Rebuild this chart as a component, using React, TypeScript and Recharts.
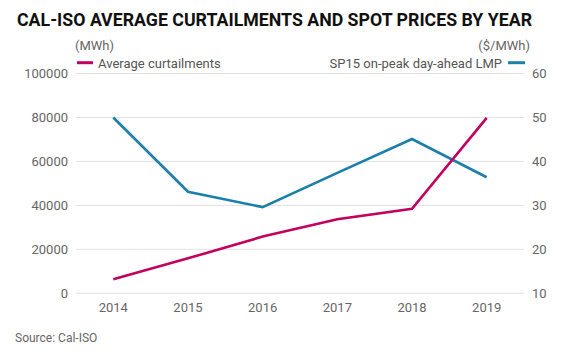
import React from "react";
import { ComposedChart, Line, XAxis, YAxis, CartesianGrid } from "recharts";

const years = ["2014", "2015", "2016", "2017", "2018", "2019"];
const curtailments = [6400, 15900, 25800, 33700, 38400, 79800];
const lmp = [50.0, 33.1, 29.6, 37.4, 45.1, 36.4];
const leftTicks = [0, 20000, 40000, 60000, 80000, 100000];
const rightTicks = [10, 20, 30, 40, 50, 60];

const PINK = "#c3005f";
const BLUE = "#1a80a9";
const FONT = "Roboto, 'Noto Sans', sans-serif";

const data = years.map((y, i) => ({ year: y, curt: curtailments[i], lmp: lmp[i] }));

export default function App() {
  const tickStyle = { fontSize: 13, fill: "#666", fontFamily: FONT };
  return (
    <div style={{ position: "absolute", left: 0, top: 0, width: 583, height: 355, background: "#fff", fontFamily: FONT }}>
      <ComposedChart
        width={583}
        height={355}
        data={data}
        margin={{ top: 73.5, right: 9, bottom: 31.7, left: 16 }}
      >
        <CartesianGrid yAxisId="left" vertical={false} stroke="#e2e2e2" strokeWidth={1} />
        <XAxis
          dataKey="year"
          axisLine={false}
          tickLine={false}
          tick={tickStyle}
          height={30}
          tickMargin={3}
          padding={{ left: 37.3, right: 37.3 }}
          interval={0}
        />
        <YAxis
          yAxisId="left"
          orientation="left"
          domain={[0, 100000]}
          ticks={leftTicks}
          axisLine={false}
          tickLine={false}
          tick={tickStyle}
          width={60}
          interval={0}
        />
        <YAxis
          yAxisId="right"
          orientation="right"
          domain={[10, 60]}
          ticks={rightTicks}
          axisLine={false}
          tickLine={false}
          tick={{ ...tickStyle, textAnchor: "start" }}
          width={50}
          interval={0}
        />
        <Line yAxisId="right" dataKey="lmp" stroke={BLUE} strokeWidth={2.6} dot={false} isAnimationActive={false} />
        <Line yAxisId="left" dataKey="curt" stroke={PINK} strokeWidth={2.6} dot={false} isAnimationActive={false} />
      </ComposedChart>
      <svg width={583} height={355} style={{ position: "absolute", left: 0, top: 0, pointerEvents: "none" }}>
        <text x={17} y={26} fontFamily={FONT} fontWeight={700} fontSize={19} fill="#111" textLength={515} lengthAdjust="spacingAndGlyphs">
          CAL-ISO AVERAGE CURTAILMENTS AND SPOT PRICES BY YEAR
        </text>
        <text x={75} y={50} fontFamily={FONT} fontSize={13} fill="#666">(MWh)</text>
        <text x={530} y={50} fontFamily={FONT} fontSize={13} fill="#666" textAnchor="end">($/MWh)</text>
        <line x1={77} x2={93} y1={62.7} y2={62.7} stroke={PINK} strokeWidth={3} />
        <text x={98} y={67.5} fontFamily={FONT} fontSize={13} fill="#555">Average curtailments</text>
        <text x={502} y={67.5} fontFamily={FONT} fontSize={13} fill="#555" textAnchor="end">SP15 on-peak day-ahead LMP</text>
        <line x1={508} x2={525} y1={62.7} y2={62.7} stroke={BLUE} strokeWidth={3} />
        <text x={15} y={342} fontFamily={FONT} fontSize={12} fill="#666">Source: Cal-ISO</text>
      </svg>
    </div>
  );
}
